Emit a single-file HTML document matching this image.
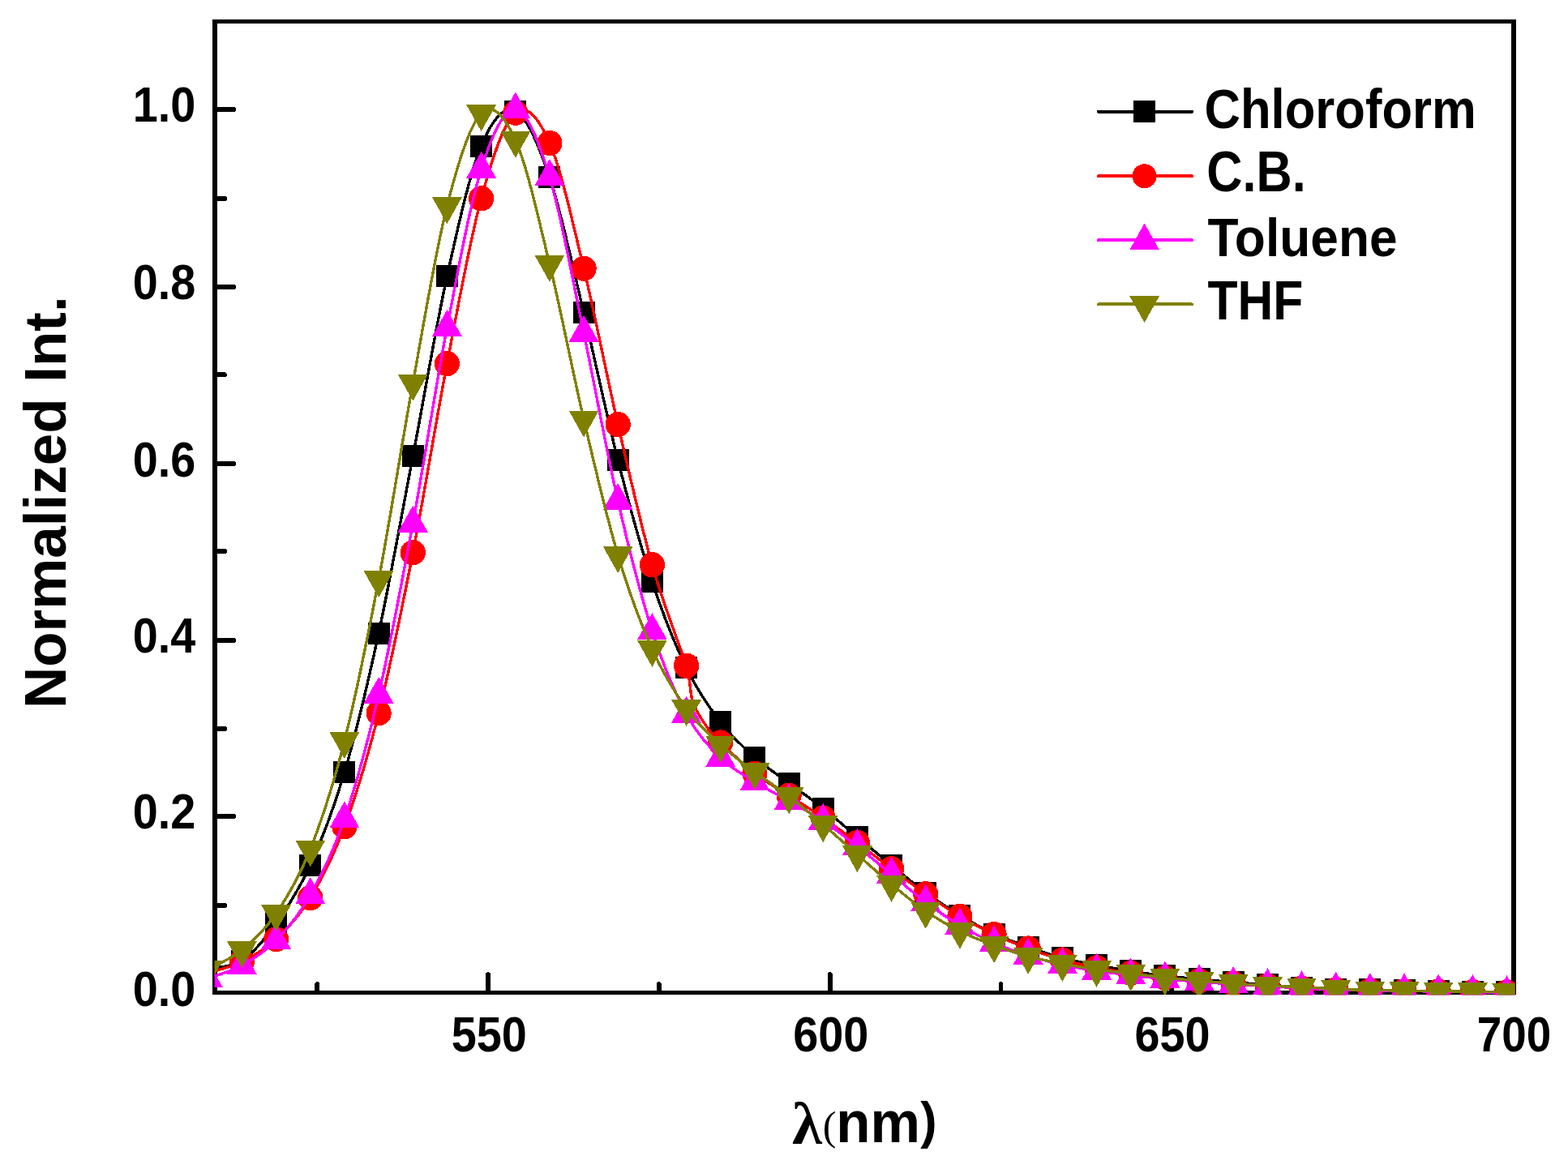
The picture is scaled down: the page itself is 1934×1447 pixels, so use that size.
<!DOCTYPE html>
<html lang="en"><head><meta charset="utf-8"><title>Normalized Int. vs λ(nm)</title>
<style>html,body{margin:0;padding:0;background:#fff}body{width:1934px;height:1447px;overflow:hidden}svg{display:block}text{font-family:"Liberation Sans",sans-serif;font-weight:bold;fill:#000}.sym{font-family:"Liberation Serif","DejaVu Serif",serif}</style>
</head><body>
<svg width="1934" height="1447" viewBox="0 0 1934 1447">
<rect width="1934" height="1447" fill="#fff"/>
<g fill="#000" shape-rendering="crispEdges">
<rect x="262.2" y="24.2" width="5.7" height="1203.2"/>
<rect x="1864.2" y="24.2" width="5.6" height="1203.2"/>
<rect x="262.2" y="24.2" width="1607.6" height="4.7"/>
<rect x="262.2" y="1222" width="1607.6" height="5.4"/>
</g>
<g stroke="#000" stroke-width="5.9" stroke-linecap="round" fill="none" shape-rendering="crispEdges">
<line x1="266" y1="1117" x2="277.1" y2="1117"/>
<line x1="266" y1="1007.1" x2="288.4" y2="1007.1"/>
<line x1="266" y1="899.2" x2="277.1" y2="899.2"/>
<line x1="266" y1="790" x2="288.4" y2="790"/>
<line x1="266" y1="680.2" x2="277.1" y2="680.2"/>
<line x1="266" y1="571.9" x2="288.4" y2="571.9"/>
<line x1="266" y1="462.4" x2="277.1" y2="462.4"/>
<line x1="266" y1="353.9" x2="288.4" y2="353.9"/>
<line x1="266" y1="245" x2="277.1" y2="245"/>
<line x1="266" y1="134.8" x2="288.4" y2="134.8"/>
<line x1="391.2" y1="1224" x2="391.2" y2="1214.2"/>
<line x1="602" y1="1224" x2="602" y2="1202.2"/>
<line x1="812.8" y1="1224" x2="812.8" y2="1214.2"/>
<line x1="1023.7" y1="1224" x2="1023.7" y2="1202.2"/>
<line x1="1234.5" y1="1224" x2="1234.5" y2="1214.2"/>
<line x1="1445.3" y1="1224" x2="1445.3" y2="1202.2"/>
<line x1="1656.1" y1="1224" x2="1656.1" y2="1214.2"/>
</g>
<defs><clipPath id="plot"><rect x="264.7" y="24.2" width="1603.9" height="1203.1"/></clipPath></defs>
<g clip-path="url(#plot)" shape-rendering="crispEdges">
<g fill="#000000" stroke="none">
<path d="M256.3 1194.4C263.3 1192.9 284.4 1194.4 298.4 1185.2C312.5 1176 326.5 1158.7 340.6 1139C354.7 1119.3 368.7 1098 382.8 1067C396.8 1036 410.9 1000.5 424.9 952.8C439 905.1 453 846 467.1 781C481.1 716 495.2 636.3 509.3 562.9C523.3 489.5 537.4 404.6 551.4 340.8C565.5 277 579.5 214 593.6 180C607.6 146 621.7 130.5 635.8 137C649.8 143.5 663.9 177.3 677.9 218.8C692 260.3 706 327.6 720.1 385.8C734.1 444 748.2 512.6 762.2 567.9C776.3 623.2 790.4 675.1 804.4 717.7C818.5 760.4 832.5 794.9 846.6 823.8C860.6 852.7 874.7 872.5 888.7 890.9C902.8 909.3 916.9 921.7 930.9 934.2C945 946.7 959 955.5 973.1 966C987.1 976.5 1001.2 986 1015.2 997.1C1029.3 1008.2 1043.3 1020.8 1057.4 1032.5C1071.5 1044.2 1085.5 1055.9 1099.6 1067.3C1113.6 1078.7 1127.7 1090.8 1141.7 1101.1C1155.8 1111.4 1169.8 1120.5 1183.9 1129C1198 1137.5 1212 1145.6 1226.1 1152.1C1240.1 1158.6 1254.2 1163 1268.2 1168C1282.3 1173 1296.3 1178 1310.4 1181.8C1324.4 1185.6 1338.5 1187.9 1352.6 1190.6C1366.6 1193.3 1380.7 1195.7 1394.7 1197.9C1408.8 1200.1 1422.8 1202.2 1436.9 1203.8C1450.9 1205.4 1465 1206.5 1479.1 1207.8C1493.1 1209.1 1507.2 1210.6 1521.2 1211.8C1535.3 1213 1549.3 1213.9 1563.4 1214.9C1577.4 1215.9 1591.5 1217.2 1605.5 1218C1619.6 1218.8 1633.7 1219.5 1647.7 1220C1661.8 1220.5 1675.8 1220.5 1689.9 1220.8C1703.9 1221.1 1718 1221.6 1732 1221.9C1746.1 1222.2 1760.2 1222.6 1774.2 1222.8C1788.3 1223 1802.3 1223 1816.4 1223.2C1830.4 1223.4 1851.5 1223.8 1858.5 1223.9" fill="none" stroke="#000000" stroke-width="3.4" stroke-linejoin="round"/>
<rect x="284.9" y="1171.7" width="27" height="27"/>
<rect x="327.1" y="1125.5" width="27" height="27"/>
<rect x="369.3" y="1053.5" width="27" height="27"/>
<rect x="411.4" y="939.3" width="27" height="27"/>
<rect x="453.6" y="767.5" width="27" height="27"/>
<rect x="495.8" y="549.4" width="27" height="27"/>
<rect x="537.9" y="327.3" width="27" height="27"/>
<rect x="580.1" y="166.5" width="27" height="27"/>
<rect x="622.3" y="123.5" width="27" height="27"/>
<rect x="664.4" y="205.3" width="27" height="27"/>
<rect x="706.6" y="372.3" width="27" height="27"/>
<rect x="748.7" y="554.4" width="27" height="27"/>
<rect x="790.9" y="704.2" width="27" height="27"/>
<rect x="833.1" y="810.3" width="27" height="27"/>
<rect x="875.2" y="877.4" width="27" height="27"/>
<rect x="917.4" y="920.7" width="27" height="27"/>
<rect x="959.6" y="952.5" width="27" height="27"/>
<rect x="1001.7" y="983.6" width="27" height="27"/>
<rect x="1043.9" y="1019" width="27" height="27"/>
<rect x="1086.1" y="1053.8" width="27" height="27"/>
<rect x="1128.2" y="1087.6" width="27" height="27"/>
<rect x="1170.4" y="1115.5" width="27" height="27"/>
<rect x="1212.6" y="1138.6" width="27" height="27"/>
<rect x="1254.7" y="1154.5" width="27" height="27"/>
<rect x="1296.9" y="1168.3" width="27" height="27"/>
<rect x="1339.1" y="1177.1" width="27" height="27"/>
<rect x="1381.2" y="1184.4" width="27" height="27"/>
<rect x="1423.4" y="1190.3" width="27" height="27"/>
<rect x="1465.6" y="1194.3" width="27" height="27"/>
<rect x="1507.7" y="1198.3" width="27" height="27"/>
<rect x="1549.9" y="1201.4" width="27" height="27"/>
<rect x="1592" y="1204.5" width="27" height="27"/>
<rect x="1634.2" y="1206.5" width="27" height="27"/>
<rect x="1676.4" y="1207.3" width="27" height="27"/>
<rect x="1718.5" y="1208.4" width="27" height="27"/>
<rect x="1760.7" y="1209.3" width="27" height="27"/>
<rect x="1802.9" y="1209.7" width="27" height="27"/>
<rect x="1845" y="1210.4" width="27" height="27"/>
</g>
<g fill="#ff0000" stroke="none">
<path d="M256.3 1200.5C263.3 1198.1 284.4 1193.2 298.4 1186.2C312.5 1179.2 326.5 1171.7 340.6 1158.6C354.7 1145.5 368.7 1130.8 382.8 1107.6C396.8 1084.4 410.9 1057.7 424.9 1019.7C439 981.7 453 936 467.1 879.7C481.1 823.4 495.2 753.6 509.3 681.7C523.3 609.9 537.4 521.4 551.4 448.6C565.5 375.8 579.5 296.5 593.6 244.9C607.6 193.3 621.7 150.6 635.8 139.2C649.8 127.8 663.9 144.5 677.9 176.5C692 208.5 706 273.3 720.1 331.2C734.1 389.1 748.2 462.8 762.2 523.7C776.3 584.6 790.4 647.2 804.4 696.8C818.5 746.4 839 797.7 846.6 821.2C854.2 844.7 848.8 831.2 850 838C851.2 844.8 852 855.6 853.5 862C855 868.4 855.5 870 858.9 876.2C862.3 882.4 868.8 892.8 873.8 899.4C878.8 906 879.2 906.9 888.7 916C898.3 925.1 916.9 943.3 930.9 954.2C945 965.1 959 972.1 973.1 981.2C987.1 990.3 1001.2 999.3 1015.2 1009C1029.3 1018.7 1043.3 1029 1057.4 1039.4C1071.5 1049.9 1085.5 1061.1 1099.6 1071.7C1113.6 1082.3 1127.7 1093 1141.7 1102.8C1155.8 1112.5 1169.8 1121.9 1183.9 1130.2C1198 1138.5 1212 1146 1226.1 1152.6C1240.1 1159.2 1254.2 1164.8 1268.2 1170C1282.3 1175.2 1296.3 1180.1 1310.4 1184C1324.4 1187.9 1338.5 1190.9 1352.6 1193.6C1366.6 1196.3 1380.7 1198.2 1394.7 1200.3C1408.8 1202.4 1422.8 1204.6 1436.9 1206.2C1450.9 1207.8 1465 1208.9 1479.1 1210C1493.1 1211.1 1507.2 1212 1521.2 1213C1535.3 1214 1549.3 1215 1563.4 1216C1577.4 1217 1591.5 1218.2 1605.5 1219C1619.6 1219.8 1633.7 1220.5 1647.7 1221C1661.8 1221.5 1675.8 1221.5 1689.9 1221.8C1703.9 1222 1718 1222.3 1732 1222.5C1746.1 1222.7 1760.2 1222.8 1774.2 1223C1788.3 1223.2 1802.3 1223.3 1816.4 1223.5C1830.4 1223.7 1851.5 1223.9 1858.5 1224" fill="none" stroke="#ff0000" stroke-width="3.4" stroke-linejoin="round"/>
<circle cx="298.4" cy="1186.2" r="15.6"/>
<circle cx="340.6" cy="1158.6" r="15.6"/>
<circle cx="382.8" cy="1107.6" r="15.6"/>
<circle cx="424.9" cy="1019.7" r="15.6"/>
<circle cx="467.1" cy="879.7" r="15.6"/>
<circle cx="509.3" cy="681.7" r="15.6"/>
<circle cx="551.4" cy="448.6" r="15.6"/>
<circle cx="593.6" cy="244.9" r="15.6"/>
<circle cx="635.8" cy="139.2" r="15.6"/>
<circle cx="677.9" cy="176.5" r="15.6"/>
<circle cx="720.1" cy="331.2" r="15.6"/>
<circle cx="762.2" cy="523.7" r="15.6"/>
<circle cx="804.4" cy="696.8" r="15.6"/>
<circle cx="846.6" cy="821.2" r="15.6"/>
<circle cx="888.7" cy="916" r="15.6"/>
<circle cx="930.9" cy="954.2" r="15.6"/>
<circle cx="973.1" cy="981.2" r="15.6"/>
<circle cx="1015.2" cy="1009" r="15.6"/>
<circle cx="1057.4" cy="1039.4" r="15.6"/>
<circle cx="1099.6" cy="1071.7" r="15.6"/>
<circle cx="1141.7" cy="1102.8" r="15.6"/>
<circle cx="1183.9" cy="1130.2" r="15.6"/>
<circle cx="1226.1" cy="1152.6" r="15.6"/>
<circle cx="1268.2" cy="1170" r="15.6"/>
<circle cx="1310.4" cy="1184" r="15.6"/>
<circle cx="1352.6" cy="1193.6" r="15.6"/>
<circle cx="1394.7" cy="1200.3" r="15.6"/>
<circle cx="1436.9" cy="1206.2" r="15.6"/>
<circle cx="1479.1" cy="1210" r="15.6"/>
<circle cx="1521.2" cy="1213" r="15.6"/>
<circle cx="1563.4" cy="1216" r="15.6"/>
<circle cx="1605.5" cy="1219" r="15.6"/>
<circle cx="1647.7" cy="1221" r="15.6"/>
<circle cx="1689.9" cy="1221.8" r="15.6"/>
<circle cx="1732" cy="1222.5" r="15.6"/>
<circle cx="1774.2" cy="1223" r="15.6"/>
<circle cx="1816.4" cy="1223.5" r="15.6"/>
<circle cx="1858.5" cy="1224" r="15.6"/>
</g>
<g fill="#ff00ff" stroke="none">
<path d="M256.3 1207C263.3 1204.3 284.4 1198.8 298.4 1191C312.5 1183.2 326.5 1174.5 340.6 1160C354.7 1145.5 368.7 1129.2 382.8 1104.2C396.8 1079.2 410.9 1051.5 424.9 1010.3C439 969.1 453 917.7 467.1 856.9C481.1 796.1 495.2 721 509.3 645.5C523.3 570 537.4 476.9 551.4 404.1C565.5 331.3 579.5 253.6 593.6 208.8C607.6 164 621.7 133.9 635.8 135.4C649.8 136.9 663.9 172.1 677.9 218C692 263.9 706 344.1 720.1 410.8C734.1 477.5 748.2 556.9 762.2 618.1C776.3 679.4 790.4 734.5 804.4 778.3C818.5 822 832.5 854.5 846.6 880.6C860.6 906.7 874.7 920.9 888.7 934.9C902.8 948.9 916.9 955.5 930.9 964.4C945 973.2 959 980 973.1 988C987.1 996 1001.2 1003.2 1015.2 1012.6C1029.3 1022 1043.3 1033.3 1057.4 1044.3C1071.5 1055.3 1085.5 1067 1099.6 1078.5C1113.6 1090 1127.7 1102.5 1141.7 1113C1155.8 1123.5 1169.8 1133.2 1183.9 1141.6C1198 1150 1212 1157.2 1226.1 1163.4C1240.1 1169.6 1254.2 1174.2 1268.2 1178.7C1282.3 1183.2 1296.3 1187.1 1310.4 1190.2C1324.4 1193.3 1338.5 1195.4 1352.6 1197.6C1366.6 1199.8 1380.7 1201.5 1394.7 1203.2C1408.8 1204.9 1422.8 1206.2 1436.9 1207.5C1450.9 1208.8 1465 1210.1 1479.1 1211.2C1493.1 1212.3 1507.2 1213.2 1521.2 1214C1535.3 1214.8 1549.3 1215.4 1563.4 1216.3C1577.4 1217.2 1591.5 1218.5 1605.5 1219.2C1619.6 1219.9 1633.7 1220 1647.7 1220.5C1661.8 1221 1675.8 1221.7 1689.9 1222C1703.9 1222.3 1718 1222.1 1732 1222.3C1746.1 1222.5 1760.2 1223 1774.2 1223.3C1788.3 1223.6 1802.3 1223.7 1816.4 1224C1830.4 1224.3 1851.5 1224.9 1858.5 1225.1" fill="none" stroke="#ff00ff" stroke-width="3.4" stroke-linejoin="round"/>
<path d="M256.3 1185L274.8 1218L237.8 1218Z"/>
<path d="M298.4 1169L316.9 1202L279.9 1202Z"/>
<path d="M340.6 1138L359.1 1171L322.1 1171Z"/>
<path d="M382.8 1082.2L401.3 1115.2L364.3 1115.2Z"/>
<path d="M424.9 988.3L443.4 1021.3L406.4 1021.3Z"/>
<path d="M467.1 834.9L485.6 867.9L448.6 867.9Z"/>
<path d="M509.3 623.5L527.8 656.5L490.8 656.5Z"/>
<path d="M551.4 382.1L569.9 415.1L532.9 415.1Z"/>
<path d="M593.6 186.8L612.1 219.8L575.1 219.8Z"/>
<path d="M635.8 113.4L654.3 146.4L617.3 146.4Z"/>
<path d="M677.9 196L696.4 229L659.4 229Z"/>
<path d="M720.1 388.8L738.6 421.8L701.6 421.8Z"/>
<path d="M762.2 596.1L780.7 629.1L743.7 629.1Z"/>
<path d="M804.4 756.3L822.9 789.3L785.9 789.3Z"/>
<path d="M846.6 858.6L865.1 891.6L828.1 891.6Z"/>
<path d="M888.7 912.9L907.2 945.9L870.2 945.9Z"/>
<path d="M930.9 942.4L949.4 975.4L912.4 975.4Z"/>
<path d="M973.1 966L991.6 999L954.6 999Z"/>
<path d="M1015.2 990.6L1033.7 1023.6L996.7 1023.6Z"/>
<path d="M1057.4 1022.3L1075.9 1055.3L1038.9 1055.3Z"/>
<path d="M1099.6 1056.5L1118.1 1089.5L1081.1 1089.5Z"/>
<path d="M1141.7 1091L1160.2 1124L1123.2 1124Z"/>
<path d="M1183.9 1119.6L1202.4 1152.6L1165.4 1152.6Z"/>
<path d="M1226.1 1141.4L1244.6 1174.4L1207.6 1174.4Z"/>
<path d="M1268.2 1156.7L1286.7 1189.7L1249.7 1189.7Z"/>
<path d="M1310.4 1168.2L1328.9 1201.2L1291.9 1201.2Z"/>
<path d="M1352.6 1175.6L1371.1 1208.6L1334.1 1208.6Z"/>
<path d="M1394.7 1181.2L1413.2 1214.2L1376.2 1214.2Z"/>
<path d="M1436.9 1185.5L1455.4 1218.5L1418.4 1218.5Z"/>
<path d="M1479.1 1189.2L1497.6 1222.2L1460.6 1222.2Z"/>
<path d="M1521.2 1192L1539.7 1225L1502.7 1225Z"/>
<path d="M1563.4 1194.3L1581.9 1227.3L1544.9 1227.3Z"/>
<path d="M1605.5 1197.2L1624 1230.2L1587 1230.2Z"/>
<path d="M1647.7 1198.5L1666.2 1231.5L1629.2 1231.5Z"/>
<path d="M1689.9 1200L1708.4 1233L1671.4 1233Z"/>
<path d="M1732 1200.3L1750.5 1233.3L1713.5 1233.3Z"/>
<path d="M1774.2 1201.3L1792.7 1234.3L1755.7 1234.3Z"/>
<path d="M1816.4 1202L1834.9 1235L1797.9 1235Z"/>
<path d="M1858.5 1203.1L1877 1236.1L1840 1236.1Z"/>
</g>
<g fill="#808000" stroke="none">
<path d="M256.3 1195.8C263.3 1191.8 284.4 1183.5 298.4 1172C312.5 1160.5 326.5 1147.8 340.6 1127C354.7 1106.2 368.7 1083 382.8 1047.5C396.8 1012 410.9 969.4 424.9 914C439 858.6 453 788.8 467.1 715.2C481.1 641.7 495.2 549.5 509.3 472.7C523.3 395.8 537.4 309.6 551.4 254.1C565.5 198.7 579.5 153.6 593.6 140C607.6 126.5 621.7 141.8 635.8 172.8C649.8 203.8 663.9 268.4 677.9 325.8C692 383.2 706 457.6 720.1 517.5C734.1 577.4 748.2 637.8 762.2 685C776.3 732.2 790.4 769.3 804.4 800.8C818.5 832.3 832.5 854.3 846.6 874C860.6 893.7 874.7 905.8 888.7 918.8C902.8 931.8 916.9 941.6 930.9 952.2C945 962.8 959 971.5 973.1 982.3C987.1 993.1 1001.2 1005.1 1015.2 1017.1C1029.3 1029.1 1043.3 1041.8 1057.4 1054.1C1071.5 1066.4 1085.5 1079.3 1099.6 1090.9C1113.6 1102.5 1127.7 1114.2 1141.7 1123.8C1155.8 1133.4 1169.8 1141.7 1183.9 1148.7C1198 1155.8 1212 1160.9 1226.1 1166.1C1240.1 1171.3 1254.2 1176 1268.2 1179.8C1282.3 1183.6 1296.3 1186.2 1310.4 1188.9C1324.4 1191.6 1338.5 1193.9 1352.6 1195.9C1366.6 1197.9 1380.7 1199.2 1394.7 1200.9C1408.8 1202.6 1422.8 1204.5 1436.9 1206C1450.9 1207.5 1465 1208.7 1479.1 1209.9C1493.1 1211.1 1507.2 1212 1521.2 1213C1535.3 1214 1549.3 1215.3 1563.4 1216.1C1577.4 1216.9 1591.5 1216.9 1605.5 1217.6C1619.6 1218.2 1633.7 1219.3 1647.7 1220C1661.8 1220.7 1675.8 1221.2 1689.9 1221.5C1703.9 1221.8 1718 1221.8 1732 1222C1746.1 1222.2 1760.2 1222.4 1774.2 1222.6C1788.3 1222.8 1802.3 1222.9 1816.4 1223.1C1830.4 1223.3 1851.5 1223.7 1858.5 1223.8" fill="none" stroke="#808000" stroke-width="3.4" stroke-linejoin="round"/>
<path d="M256.3 1217.8L274.8 1184.8L237.8 1184.8Z"/>
<path d="M298.4 1194L316.9 1161L279.9 1161Z"/>
<path d="M340.6 1149L359.1 1116L322.1 1116Z"/>
<path d="M382.8 1069.5L401.3 1036.5L364.3 1036.5Z"/>
<path d="M424.9 936L443.4 903L406.4 903Z"/>
<path d="M467.1 737.2L485.6 704.2L448.6 704.2Z"/>
<path d="M509.3 494.7L527.8 461.7L490.8 461.7Z"/>
<path d="M551.4 276.1L569.9 243.1L532.9 243.1Z"/>
<path d="M593.6 162L612.1 129L575.1 129Z"/>
<path d="M635.8 194.8L654.3 161.8L617.3 161.8Z"/>
<path d="M677.9 347.8L696.4 314.8L659.4 314.8Z"/>
<path d="M720.1 539.5L738.6 506.5L701.6 506.5Z"/>
<path d="M762.2 707L780.7 674L743.7 674Z"/>
<path d="M804.4 822.8L822.9 789.8L785.9 789.8Z"/>
<path d="M846.6 896L865.1 863L828.1 863Z"/>
<path d="M888.7 940.8L907.2 907.8L870.2 907.8Z"/>
<path d="M930.9 974.2L949.4 941.2L912.4 941.2Z"/>
<path d="M973.1 1004.3L991.6 971.3L954.6 971.3Z"/>
<path d="M1015.2 1039.1L1033.7 1006.1L996.7 1006.1Z"/>
<path d="M1057.4 1076.1L1075.9 1043.1L1038.9 1043.1Z"/>
<path d="M1099.6 1112.9L1118.1 1079.9L1081.1 1079.9Z"/>
<path d="M1141.7 1145.8L1160.2 1112.8L1123.2 1112.8Z"/>
<path d="M1183.9 1170.7L1202.4 1137.7L1165.4 1137.7Z"/>
<path d="M1226.1 1188.1L1244.6 1155.1L1207.6 1155.1Z"/>
<path d="M1268.2 1201.8L1286.7 1168.8L1249.7 1168.8Z"/>
<path d="M1310.4 1210.9L1328.9 1177.9L1291.9 1177.9Z"/>
<path d="M1352.6 1217.9L1371.1 1184.9L1334.1 1184.9Z"/>
<path d="M1394.7 1222.9L1413.2 1189.9L1376.2 1189.9Z"/>
<path d="M1436.9 1228L1455.4 1195L1418.4 1195Z"/>
<path d="M1479.1 1231.9L1497.6 1198.9L1460.6 1198.9Z"/>
<path d="M1521.2 1235L1539.7 1202L1502.7 1202Z"/>
<path d="M1563.4 1238.1L1581.9 1205.1L1544.9 1205.1Z"/>
<path d="M1605.5 1239.6L1624 1206.6L1587 1206.6Z"/>
<path d="M1647.7 1242L1666.2 1209L1629.2 1209Z"/>
<path d="M1689.9 1243.5L1708.4 1210.5L1671.4 1210.5Z"/>
<path d="M1732 1244L1750.5 1211L1713.5 1211Z"/>
<path d="M1774.2 1244.6L1792.7 1211.6L1755.7 1211.6Z"/>
<path d="M1816.4 1245.1L1834.9 1212.1L1797.9 1212.1Z"/>
<path d="M1858.5 1245.8L1877 1212.8L1840 1212.8Z"/>
</g>
</g>
<g fill="#000000" shape-rendering="crispEdges">
<line x1="1355" y1="137.7" x2="1470" y2="137.7" stroke="#000000" stroke-width="4.1" stroke-linecap="round"/>
<rect x="1398.1" y="124.2" width="27" height="27"/>
</g>
<text transform="translate(1485.5 157.6) scale(0.9169 1.03)" font-size="67.2">Chloroform</text>
<g fill="#ff0000" shape-rendering="crispEdges">
<line x1="1355" y1="217.3" x2="1470" y2="217.3" stroke="#ff0000" stroke-width="4.1" stroke-linecap="round"/>
<circle cx="1411.6" cy="217.3" r="15"/>
</g>
<text transform="translate(1488.3 235.9) scale(0.9114 1.05)" font-size="67.2">C.B.</text>
<g fill="#ff00ff" shape-rendering="crispEdges">
<line x1="1355" y1="296.3" x2="1470" y2="296.3" stroke="#ff00ff" stroke-width="4.1" stroke-linecap="round"/>
<path d="M1411.6 275.4L1430.1 308.4L1393.1 308.4Z"/>
</g>
<text transform="translate(1489.4 315.8) scale(0.9272 0.99)" font-size="67.2">Toluene</text>
<g fill="#808000" shape-rendering="crispEdges">
<line x1="1355" y1="375.4" x2="1470" y2="375.4" stroke="#808000" stroke-width="4.1" stroke-linecap="round"/>
<path d="M1411.6 398L1430.1 365L1393.1 365Z"/>
</g>
<text transform="translate(1489.4 394.2) scale(0.9025 1.02)" font-size="67.2">THF</text>
<text transform="translate(241.2 1241.3) scale(0.9 1)" font-size="62" text-anchor="end">0.0</text>
<text transform="translate(241.2 1022.4) scale(0.9 1)" font-size="62" text-anchor="end">0.2</text>
<text transform="translate(241.2 805.1) scale(0.9 1)" font-size="62" text-anchor="end">0.4</text>
<text transform="translate(241.2 587.6) scale(0.9 1)" font-size="62" text-anchor="end">0.6</text>
<text transform="translate(241.2 368.6) scale(0.9 1)" font-size="62" text-anchor="end">0.8</text>
<text transform="translate(241.2 150.4) scale(0.9 1)" font-size="62" text-anchor="end">1.0</text>
<text transform="translate(603.3 1296.7) scale(0.9 1)" font-size="62" text-anchor="middle">550</text>
<text transform="translate(1024.8 1296.7) scale(0.9 1)" font-size="62" text-anchor="middle">600</text>
<text transform="translate(1446.1 1296.7) scale(0.9 1)" font-size="62" text-anchor="middle">650</text>
<text transform="translate(1867.4 1296.7) scale(0.8838 1)" font-size="62" text-anchor="middle">700</text>
<text transform="translate(80.9 874.1) rotate(-90) scale(1 1.025)" font-size="71">Normalized Int.</text>
<text class="sym" transform="translate(977 1410.5) scale(1.03 1)" font-size="73">λ</text>
<text class="sym" transform="translate(1014.8 1406.4)" font-size="50" style="font-weight:normal">(</text>
<text transform="translate(1031.3 1408.9) scale(0.96 1)" font-size="72">nm</text>
<text transform="translate(1135.3 1404.2) scale(0.85 0.88)" font-size="72">)</text>
</svg>
</body></html>
